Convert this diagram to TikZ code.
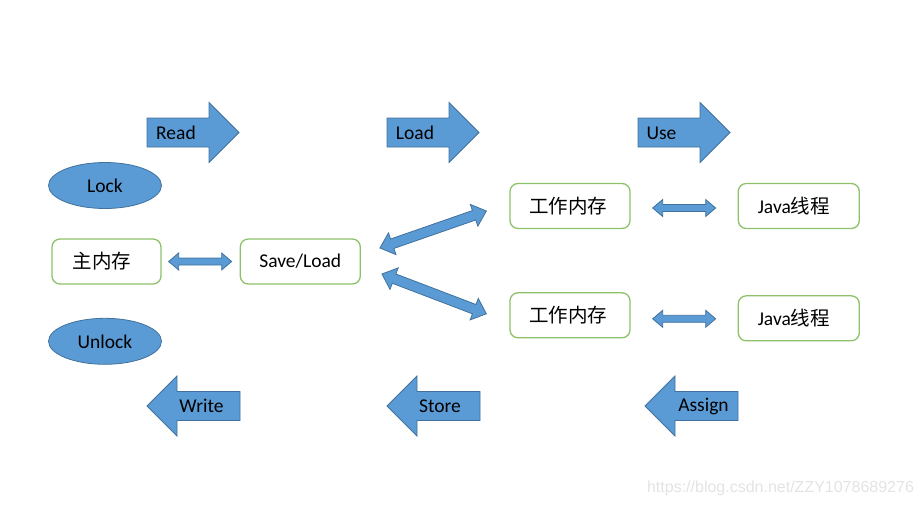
\documentclass[tikz,border=0pt]{standalone}
\usepackage{fontspec}
\setmainfont{Carlito}
\newfontfamily\cjk{Noto Sans CJK SC}
\newfontfamily\markfont{Liberation Sans}
\usepackage{xcolor}
\usetikzlibrary{positioning,calc,shapes.geometric}
\definecolor{opblue}{HTML}{5B9BD5}
\definecolor{opline}{HTML}{41719C}
\definecolor{boxgreen}{HTML}{8DC26A}
\tikzset{
  figfont/.style={font=\fontsize{19.5}{22}\selectfont},
  cjkfont/.style={font=\cjk\fontsize{20.5}{22}\selectfont},
  membox/.style={draw=boxgreen, line width=1.3pt, rounded corners=8pt, fill=white, minimum height=45pt, inner sep=0pt},
  opellipse/.style={ellipse, draw=opline, fill=opblue, line width=0.8pt, minimum width=113pt, minimum height=46pt, inner sep=0pt},
  blockfill/.style={draw=opline, fill=opblue, line width=0.8pt, line join=miter},
}
% block arrow with one head, from tail #1 to tip #2
\newcommand{\blockarrow}[2]{%
  \path[blockfill] let \p1=($(#2)-(#1)$), \n1={atan2(\y1,\x1)}, \n2={veclen(\x1,\y1)} in
    [shift={(#1)}, rotate=\n1]
    (0,14.5) -- ({\n2-30},14.5) -- ({\n2-30},30) -- ({\n2},0)
    -- ({\n2-30},-30) -- ({\n2-30},-14.5) -- (0,-14.5) -- cycle;}
% block arrow with two heads: #3 shaft half width, #4 head half width, #5 head length
\newcommand{\blockboth}[5]{%
  \path[blockfill] let \p1=($(#2)-(#1)$), \n1={atan2(\y1,\x1)}, \n2={veclen(\x1,\y1)} in
    [shift={(#1)}, rotate=\n1]
    (0,0) -- (#5,#4) -- (#5,#3) -- ({\n2-#5},#3) -- ({\n2-#5},#4) -- ({\n2},0)
    -- ({\n2-#5},-#4) -- ({\n2-#5},-#3) -- (#5,-#3) -- (#5,-#4) -- cycle;}
\begin{document}
\begin{tikzpicture}[figfont, x=1pt, y=1pt]
\useasboundingbox (0,0) rectangle (922,-507);

% Operations - top row
\coordinate (readT) at (147,-132.5);
\coordinate (readH) at (239,-132.5);
\coordinate (loadT) at (387,-132.5);
\coordinate (loadH) at (479,-132.5);
\coordinate (useT) at (638,-132.5);
\coordinate (useH) at (730,-132.5);
\blockarrow{readT}{readH}
\blockarrow{loadT}{loadH}
\blockarrow{useT}{useH}
\node (read) at (176,-133) {Read};
\node (load) at (415,-133) {Load};
\node (use) at (661.5,-133) {Use};

% Operations - bottom row
\coordinate (writeT) at (240,-406);
\coordinate (writeH) at (147,-406);
\coordinate (storeT) at (480,-406);
\coordinate (storeH) at (387,-406);
\coordinate (assignT) at (738,-406);
\coordinate (assignH) at (645,-406);
\blockarrow{writeT}{writeH}
\blockarrow{storeT}{storeH}
\blockarrow{assignT}{assignH}
\node (write) at (201.5,-406) {Write};
\node (store) at (440,-406) {Store};
\node (assign) at (703.5,-406) {Assign};

% Lock and unlock
\node[opellipse] (lock) at (105,-185.5) {Lock};
\node[opellipse, below=109pt of lock] (unlock) {Unlock};

% Memory nodes
\node[membox, minimum width=109pt] (main) at (106.5,-261.5) {\hspace*{-9pt}{\cjk 主内存}};
\node[membox, right=78pt of main, minimum width=120pt] (save) {Save/Load};
\node[membox, minimum width=120pt] (work1) at (570,-206) {\hspace*{-4pt}{\cjk 工作内存}};
\node[membox, below=63pt of work1, minimum width=120pt] (work2) {\hspace*{-4pt}{\cjk 工作内存}};
\node[membox, right=107pt of work1, minimum width=121pt] (java1) {\hspace*{-10pt}Java{\cjk 线程}};
\node[membox, below=66pt of java1, minimum width=121pt] (java2) {\hspace*{-10pt}Java{\cjk 线程}};

% Exchange arrows
\coordinate (mainR) at ($(main.east)+(7,0)$);
\coordinate (saveL) at ($(save.west)+(-8,0)$);
\coordinate (saveUp) at ($(save.east)+(19,13.5)$);
\coordinate (saveDn) at ($(save.east)+(21,-12.5)$);
\coordinate (work1L) at ($(work1.west)+(-23,-5)$);
\coordinate (work2L) at ($(work2.west)+(-23,1.5)$);
\coordinate (work1R) at ($(work1.east)+(22,-2)$);
\coordinate (work2R) at ($(work2.east)+(22,-3.5)$);
\coordinate (java1L) at ($(java1.west)+(-22,-2)$);
\coordinate (java2L) at ($(java2.west)+(-22,-0.5)$);
\blockboth{mainR}{saveL}{3.5}{8.5}{10}
\blockboth{saveUp}{work1L}{5}{11.5}{13}
\blockboth{saveDn}{work2L}{5}{11.5}{13}
\blockboth{work1R}{java1L}{3.5}{8.5}{10}
\blockboth{work2R}{java2L}{3.5}{8.5}{10}

% Watermark
\node[text=gray!22, font=\markfont\fontsize{16}{18}\selectfont] (mark) at (780.5,-488) {https://blog.csdn.net/ZZY1078689276};
\end{tikzpicture}
\end{document}
